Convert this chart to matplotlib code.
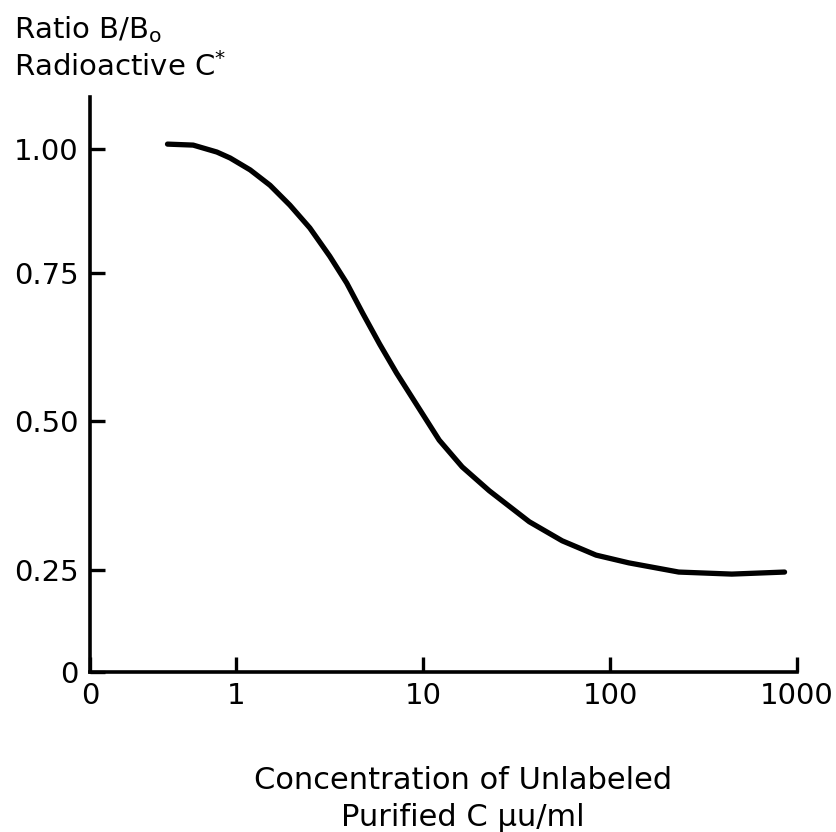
import numpy as np
import matplotlib
matplotlib.use('Agg')
from matplotlib import pyplot as plt

# curve: concentration (uu/ml) and ratio B/Bo
conc = [0.43, 0.59, 0.79, 0.93, 1.19, 1.52, 1.94, 2.48, 3.17, 3.91, 4.76, 5.86,
        7.22, 8.69, 12.2, 16.2, 22.6, 37.0, 55.5, 84.2, 126, 233, 448, 858]
ratio = [1.010, 1.008, 0.994, 0.982, 0.958, 0.927, 0.887, 0.841, 0.784, 0.733, 0.682, 0.630,
         0.581, 0.541, 0.468, 0.423, 0.383, 0.331, 0.299, 0.275, 0.262, 0.245, 0.240, 0.245]

yticks = [0, 0.25, 0.5, 0.75, 1.0]
ylabels = ['0', '0.25', '0.50', '0.75', '1.00']
xticks = [10 ** -0.781, 1, 10, 100, 1000]
xlabels = ['0', '1', '10', '100', '1000']

# the hand drawn y axis is not evenly spaced
kv = [-1, 0, 0.25, 0.5, 0.75, 1.0, 2.0]
kd = [-408, 0, 102, 251, 399, 523, 1019]
fwd = lambda v: np.interp(v, kv, kd)
inv = lambda d: np.interp(d, kd, kv)

plt.rcParams['font.family'] = ['DejaVu Sans']
plt.rcParams['mathtext.fontset'] = 'custom'

fig = plt.figure(figsize=(8.36, 8.32), dpi=100)
ax = fig.add_axes([90 / 836, 160 / 832, 707 / 836, 575 / 832])

ax.plot(conc, ratio, color='black', lw=3.8, solid_capstyle='round', solid_joinstyle='round')

ax.set_xscale('log')
ax.set_yscale('function', functions=(fwd, inv))
ax.set_xlim(xticks[0], 1000)
ax.set_ylim(0, 1.105)

ax.set_xticks(xticks)
ax.set_xticklabels(xlabels)
ax.xaxis.set_minor_locator(matplotlib.ticker.NullLocator())
ax.set_yticks(yticks)
ax.set_yticklabels(ylabels)

for s in ['top', 'right']:
    ax.spines[s].set_visible(False)
for s in ['left', 'bottom']:
    ax.spines[s].set_linewidth(2.6)

ax.tick_params(direction='in', length=11, width=2.4, labelsize=21, pad=7)
ax.tick_params(axis='y', pad=8)

fig.text(14 / 836, 1 - 38 / 832, r'Ratio B/B$_\mathregular{o}$', fontsize=21, ha='left', va='baseline')
fig.text(14 / 836, 1 - 76 / 832, r'Radioactive C$^\mathregular{*}$', fontsize=21, ha='left', va='baseline')
fig.text(463 / 836, 1 - 789 / 832, 'Concentration of Unlabeled', fontsize=22, ha='center', va='baseline')
fig.text(463 / 836, 1 - 826 / 832, 'Purified C μu/ml', fontsize=22, ha='center', va='baseline')

fig.savefig('out.png', dpi=100)
